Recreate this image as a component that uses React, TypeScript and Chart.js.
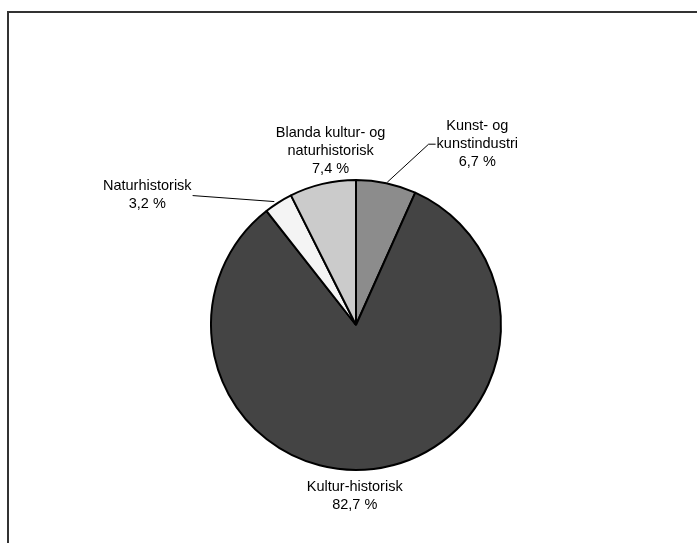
import React, { useEffect, useRef } from "react";
import { Chart, registerables } from "chart.js";

Chart.register(...registerables);

const categories: string[][] = [
  ["Kunst- og", "kunstindustri"],
  ["Kultur-historisk"],
  ["Naturhistorisk"],
  ["Blanda kultur- og", "naturhistorisk"],
];
const values: number[] = [6.7, 82.7, 3.2, 7.4];
const valueLabels: string[] = ["6,7 %", "82,7 %", "3,2 %", "7,4 %"];
const colors: string[] = ["#8c8c8c", "#444444", "#f4f4f4", "#cbcbcb"];

// label placement: offset of label block centre from the slice's outer mid-point
const labelOffsets = [
  { dx: 91, dy: -39, leader: "left" },
  { dx: -19, dy: 27, leader: "none" },
  { dx: -131, dy: -8, leader: "right" },
  { dx: 8, dy: -33, leader: "none" },
];

const FONT = "14.5px 'Liberation Sans', Arial, sans-serif";
const LINE_H = 18;

const labelPlugin = {
  id: "pieLabels",
  afterDraw(chart: any) {
    const ctx = chart.ctx;
    const meta = chart.getDatasetMeta(0);
    ctx.save();
    // frame (top and left edges)
    ctx.strokeStyle = "#333";
    ctx.lineWidth = 2;
    ctx.beginPath();
    ctx.moveTo(8, chart.height);
    ctx.lineTo(8, 12);
    ctx.lineTo(chart.width, 12);
    ctx.stroke();

    ctx.font = FONT;
    ctx.fillStyle = "#000";
    ctx.textAlign = "center";
    ctx.textBaseline = "middle";
    meta.data.forEach((arc: any, i: number) => {
      const mid = (arc.startAngle + arc.endAngle) / 2;
      const ax = arc.x + Math.cos(mid) * arc.outerRadius;
      const ay = arc.y + Math.sin(mid) * arc.outerRadius;
      const off = labelOffsets[i];
      const cx = ax + off.dx;
      const cy = ay + off.dy;
      const lines = [...categories[i], valueLabels[i]];
      const top = cy - ((lines.length - 1) * LINE_H) / 2;
      lines.forEach((ln, k) => ctx.fillText(ln, cx, top + k * LINE_H));
      if (off.leader !== "none") {
        const widths = lines.map((l) => ctx.measureText(l).width);
        ctx.strokeStyle = "#000";
        ctx.lineWidth = 1;
        ctx.beginPath();
        if (off.leader === "left") {
          const ly = top + LINE_H;
          const lx = cx - widths[1] / 2 - 1;
          ctx.moveTo(ax + 1, ay - 1);
          ctx.lineTo(lx - 7, ly);
          ctx.lineTo(lx, ly);
        } else {
          const ly = top + 10;
          const lx = cx + widths[0] / 2 + 1;
          ctx.moveTo(ax - 4, ay - 1);
          ctx.lineTo(lx, ly);
        }
        ctx.stroke();
      }
    });
    ctx.restore();
  },
};

export default function App() {
  const ref = useRef<HTMLCanvasElement | null>(null);
  useEffect(() => {
    if (!ref.current) return;
    const chart = new Chart(ref.current, {
      type: "pie",
      data: {
        labels: categories.map((c) => c.join(" ")),
        datasets: [
          {
            data: values,
            backgroundColor: colors,
            borderColor: "#000",
            borderWidth: 2,
            hoverOffset: 0,
          },
        ],
      },
      options: {
        responsive: false,
        animation: false,
        radius: 145,
        layout: { padding: { left: 15, right: 0, top: 107, bottom: 0 } },
        plugins: {
          legend: { display: false },
          tooltip: { enabled: false },
        },
      } as any,
      plugins: [labelPlugin],
    });
    return () => chart.destroy();
  }, []);
  return (
    <div style={{ position: "fixed", left: 0, top: 0, width: 697, height: 543, background: "#fff" }}>
      <canvas ref={ref} width={697} height={543} style={{ display: "block" }} />
    </div>
  );
}
